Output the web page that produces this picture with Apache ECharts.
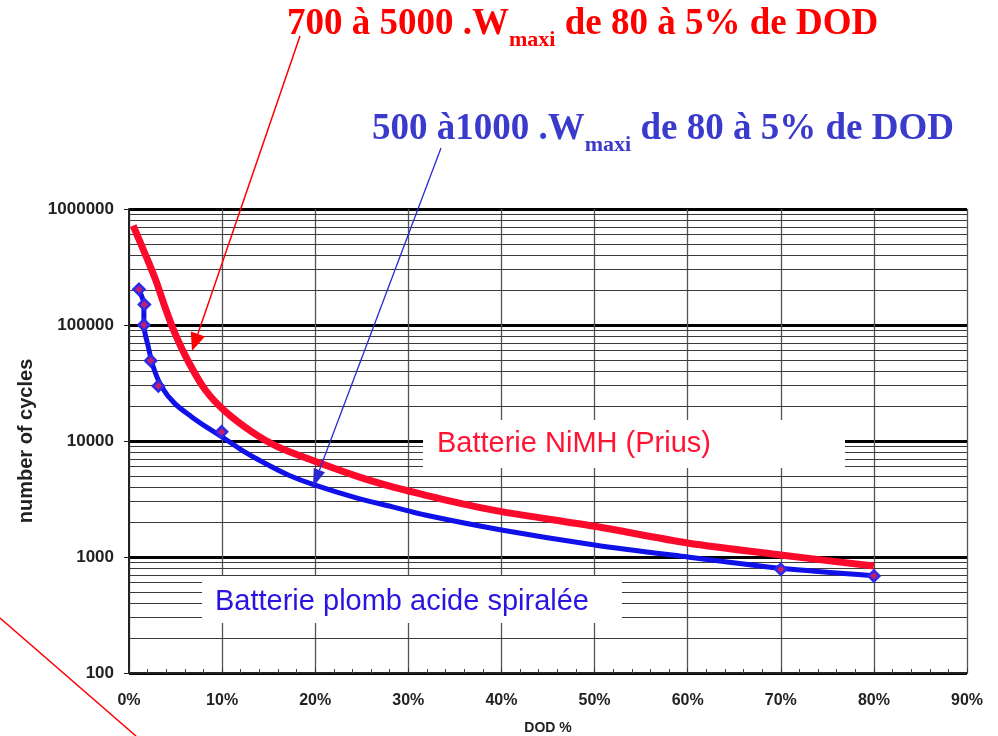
<!DOCTYPE html>
<html>
<head>
<meta charset="utf-8">
<script src="https://cdn.jsdelivr.net/npm/echarts/dist/echarts.min.js"></script>
<style>
html,body{margin:0;padding:0;background:#fff;}
#chart{width:998px;height:736px;}
</style>
</head>
<body>
<div id="chart"></div>
<script>
// ---- data ----
const dodTickLabels = ['0%','10%','20%','30%','40%','50%','60%','70%','80%','90%'];
const cycleTickLabels = ['100','1000','10000','100000','1000000'];
const minorGridCycles = [200,300,400,500,600,700,800,900,
  2000,3000,4000,5000,6000,7000,8000,9000,
  20000,30000,40000,50000,60000,70000,80000,90000,
  200000,300000,400000,500000,600000,700000,800000,900000];

const nimhDod =    [0.45, 1.9, 2.9, 3.9, 4.9, 6.4, 8.2, 10.3, 13.2, 16, 19.6, 24.6, 28.2, 31.8, 35, 40, 50, 60, 70, 80];
const nimhCycles = [720000, 380000, 240000, 140000, 86000, 48000, 27500, 18100, 12000, 8900, 6860, 4930, 4040, 3420, 2970, 2460, 1840, 1320, 1040, 835];

const leadDod =    [1.07, 1.6, 1.6, 2.07, 2.6, 3.5, 4.9, 6.7, 8.5, 9.95, 12.1, 14.6, 17.1, 19.9, 24.6, 28.2, 31.8, 40, 50, 60, 70, 80];
const leadCycles = [200000, 150000, 100000, 65000, 43700, 29400, 21100, 16200, 12900, 10900, 8360, 6420, 5090, 4180, 3200, 2720, 2300, 1710, 1270, 1000, 800, 690];

const leadPointDod =    [1.07, 1.65, 1.6, 2.33, 3.15, 9.95, 70, 80];
const leadPointCycles = [203000, 150000, 100000, 49300, 29800, 12000, 783, 686];

const nimhLabel = 'Batterie NiMH (Prius)';
const leadLabel = 'Batterie plomb acide spiralée';
const redTitle = ['700 à 5000 .W', 'maxi', ' de 80 à 5% de DOD'];
const blueTitle = ['500 à1000 .W', 'maxi', ' de 80 à 5% de DOD'];

// ---- helpers ----
const zip = (a, b) => a.map((v, i) => [v, b[i]]);
const ctx = document.createElement('canvas').getContext('2d');
function measure(text, font) { ctx.font = font; return ctx.measureText(text).width; }
const serifMain = 'bold 37px "Liberation Serif", "Times New Roman", serif';
const serifSub = 'bold 22px "Liberation Serif", "Times New Roman", serif';

function titleElements(parts, x, baseline, color) {
  const w0 = measure(parts[0], serifMain);
  const w1 = measure(parts[1], serifSub);
  const common = { fill: color, textAlign: 'left', textVerticalAlign: 'middle', verticalAlign: 'middle' };
  return [
    { type: 'text', z: 30, style: Object.assign({ text: parts[0], x: x, y: baseline - 12.5, font: serifMain }, common) },
    { type: 'text', z: 30, style: Object.assign({ text: parts[1], x: x + w0, y: baseline + 11 - 7.4, font: serifSub }, common) },
    { type: 'text', z: 30, style: Object.assign({ text: parts[2], x: x + w0 + w1, y: baseline - 12.5, font: serifMain }, common) }
  ];
}

function arrow(x1, y1, x2, y2, color, lw, headL, headW) {
  const dx = x2 - x1, dy = y2 - y1, len = Math.hypot(dx, dy);
  const ux = dx / len, uy = dy / len, nx = -uy, ny = ux;
  const bx = x2 - ux * headL, by = y2 - uy * headL;
  return [
    { type: 'line', z: 40, shape: { x1: x1, y1: y1, x2: bx, y2: by }, style: { stroke: color, lineWidth: lw } },
    { type: 'polygon', z: 40, shape: { points: [[x2, y2], [bx + nx * headW / 2, by + ny * headW / 2], [bx - nx * headW / 2, by - ny * headW / 2]] }, style: { fill: color } }
  ];
}

const labelFont = '"Liberation Sans", Arial, sans-serif';

const chart = echarts.init(document.getElementById('chart'));
const option = {
  animation: false,
  backgroundColor: '#ffffff',
  grid: { left: 129, right: 31, top: 209, bottom: 63, containLabel: false, outerBoundsMode: 'none' },
  xAxis: {
    type: 'value', min: 0, max: 90, interval: 10,
    name: 'DOD %', nameLocation: 'middle', nameGap: 48,
    nameTextStyle: { fontFamily: labelFont, fontWeight: 'bold', fontSize: 14, color: '#222' },
    axisLine: { show: true, onZero: false, lineStyle: { color: '#222', width: 2 } },
    axisTick: { show: true, inside: true, length: 5, lineStyle: { color: '#333' } },
    minorTick: { show: true, splitNumber: 5, length: 4, lineStyle: { color: '#444', width: 1 } },
    axisLabel: { margin: 20, fontFamily: labelFont, fontWeight: 'bold', fontSize: 16, color: '#222',
      formatter: v => dodTickLabels[Math.round(v / 10)] },
    splitLine: { show: true, lineStyle: { color: '#555', width: 1.3 } }
  },
  yAxis: {
    type: 'log', logBase: 10, min: 100, max: 1000000,
    name: 'number of cycles', nameLocation: 'middle', nameGap: 93,
    nameTextStyle: { fontFamily: labelFont, fontWeight: 'bold', fontSize: 20, color: '#222' },
    axisLine: { show: true, lineStyle: { color: '#222', width: 2 } },
    axisTick: { show: true, length: 5, lineStyle: { color: '#222' } },
    axisLabel: { margin: 15, fontFamily: labelFont, fontWeight: 'bold', fontSize: 17, color: '#222',
      formatter: v => cycleTickLabels[Math.round(Math.log10(v)) - 2] },
    splitLine: { show: true, lineStyle: { color: '#000', width: 3 } }
  },
  series: [
    {
      type: 'line', data: [[0, 100]], showSymbol: false, symbol: 'none',
      lineStyle: { width: 0 }, silent: true, z: 1,
      markLine: {
        silent: true, symbol: ['none', 'none'], animation: false,
        label: { show: false },
        lineStyle: { color: '#3a3a3a', width: 1, type: 'solid' },
        emphasis: { disabled: true },
        data: minorGridCycles.map(v => ({ yAxis: v }))
      }
    },
    {
      name: nimhLabel, type: 'line', data: zip(nimhDod, nimhCycles), smooth: 0.3,
      symbol: 'none', z: 10,
      lineStyle: { color: '#fb0a2c', width: 7 }
    },
    {
      name: leadLabel, type: 'line', data: zip(leadDod, leadCycles), smooth: 0.3,
      symbol: 'none', z: 11,
      lineStyle: { color: '#1010e8', width: 5 }
    },
    {
      type: 'scatter', data: zip(leadPointDod, leadPointCycles), symbol: 'diamond', symbolSize: 11, z: 12,
      itemStyle: { color: '#c41e6e', borderColor: '#2a2ae8', borderWidth: 2.5, opacity: 1 }
    }
  ],
  graphic: {
    elements: [
      { type: 'rect', z: 20, shape: { x: 423, y: 420, width: 422, height: 48 }, style: { fill: '#fff' } },
      { type: 'text', z: 21, style: { text: nimhLabel, x: 437, y: 444, font: '29px ' + labelFont, fill: '#ff1434', textAlign: 'left', verticalAlign: 'middle', textVerticalAlign: 'middle' } },
      { type: 'rect', z: 20, shape: { x: 202, y: 576, width: 420, height: 47 }, style: { fill: '#fff' } },
      { type: 'text', z: 21, style: { text: leadLabel, x: 215, y: 602, font: '29px ' + labelFont, fill: '#2a14e0', textAlign: 'left', verticalAlign: 'middle', textVerticalAlign: 'middle' } }
    ]
    .concat(titleElements(redTitle, 287, 37, '#ff0000'))
    .concat(titleElements(blueTitle, 372, 142, '#3a3acc'))
    .concat(arrow(300, 36, 192, 351, '#ff0000', 1.5, 18, 15))
    .concat(arrow(441, 148, 313, 487, '#2a2ad0', 1.3, 18, 12))
    .concat([{ type: 'line', z: 40, shape: { x1: 0, y1: 618, x2: 136, y2: 736 }, style: { stroke: '#ff0000', lineWidth: 1.5 } }])
  }
};
chart.setOption(option);
</script>
</body>
</html>
